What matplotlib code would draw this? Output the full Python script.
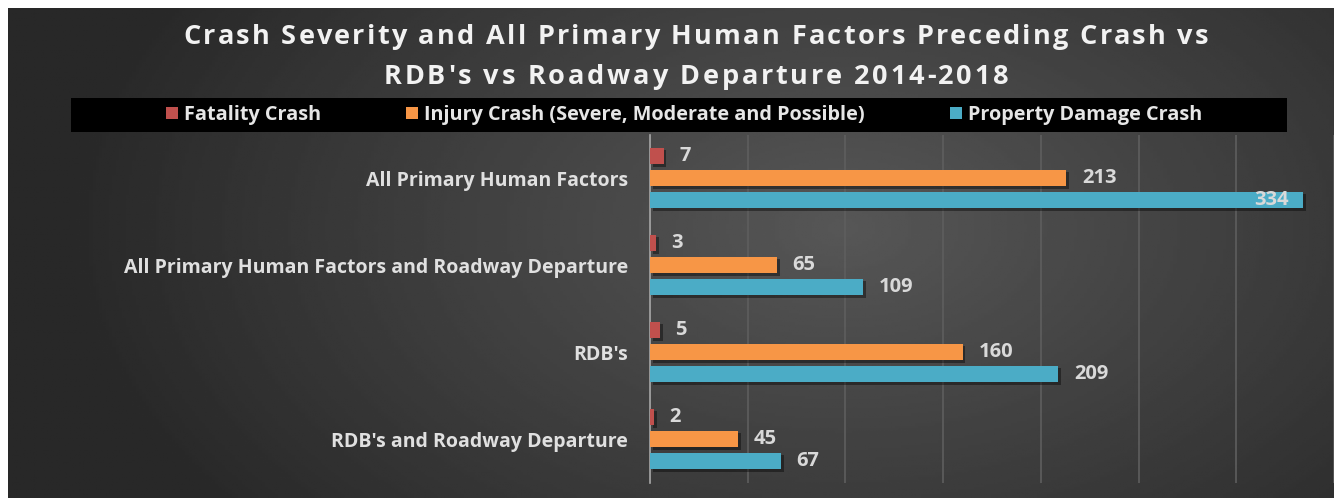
import numpy as np
import matplotlib.pyplot as plt
from matplotlib.patches import Rectangle, Patch
from matplotlib.font_manager import FontProperties
import matplotlib.patheffects as pe

categories = ["All Primary Human Factors",
              "All Primary Human Factors and Roadway Departure",
              "RDB's",
              "RDB's and Roadway Departure"]
series_names = ["Fatality Crash",
                "Injury Crash (Severe, Moderate and Possible)",
                "Property Damage Crash"]
fatality = [7, 3, 5, 2]
injury = [213, 65, 160, 45]
property_damage = [334, 109, 209, 67]
colors = ["#c0504d", "#f79646", "#4bacc6"]
title_lines = ["Crash Severity and All Primary Human Factors Preceding Crash vs",
               "RDB's vs Roadway Departure 2014-2018"]

W, H = 1337, 498
plt.rcParams['font.family'] = ['Open Sans', 'DejaVu Sans']
fig = plt.figure(figsize=(W / 100, H / 100), dpi=100, facecolor='white')

# dark panel with radial gradient
bg = fig.add_axes([8 / W, 0, (1333 - 8) / W, (H - 8) / H])
gx, gy = np.meshgrid(np.linspace(0, 1, 400), np.linspace(0, 1, 200))
r = np.sqrt(((gx - 0.63) / 0.55) ** 2 + ((gy - 0.45) / 0.9) ** 2)
shade = np.clip(0.34 - 0.17 * r, 0.16, 0.34)
bg.imshow(shade, cmap='gray', vmin=0, vmax=1, aspect='auto', extent=[0, 1, 0, 1], origin='upper')
bg.set_axis_off()


def spaced_text(s, xc, y_base, target_w, prop):
    # draw a line with extra letter spacing, centred on xc (pixels)
    rend = fig.canvas.get_renderer()
    pos = [rend.get_text_width_height_descent(s[:k], prop, ismath=False)[0] for k in range(len(s) + 1)]
    extra = (target_w - pos[-1]) / (len(s) - 1)
    x0 = xc - target_w / 2
    for k, ch in enumerate(s):
        fig.text((x0 + pos[k] + k * extra) / W, 1 - y_base / H, ch, ha='left', va='baseline',
                 color='#f2f2f2', fontproperties=prop)


tprop = FontProperties(family=['Open Sans', 'DejaVu Sans'], weight='bold', size=19.5)
spaced_text(title_lines[0], 696, 43.5, 1025, tprop)
spaced_text(title_lines[1], 696, 83.5, 625, tprop)

# legend bar
fig.patches.append(Rectangle((71 / W, 1 - 132 / H), (1287 - 71) / W, 34 / H,
                             transform=fig.transFigure, facecolor='black', edgecolor='none', zorder=1))
handles = [Patch(facecolor=c, edgecolor='none') for c in colors]
leg = fig.legend(handles, series_names, loc='center', bbox_to_anchor=(684 / W, 1 - 115 / H),
                 ncol=3, frameon=False, handlelength=0.6, handleheight=0.6, handletextpad=0.3,
                 columnspacing=4.3, prop={'weight': 'bold', 'size': 14.3})
for t in leg.get_texts():
    t.set_color('#e6e6e6')

# plot area
ax = fig.add_axes([650 / W, 1 - 482.5 / H, (1334 - 650) / W, (482.5 - 134.5) / H])
ax.patch.set_alpha(0)
y = np.arange(len(categories))
pitch = 0.253
bh = 0.195
shadow = [pe.SimplePatchShadow(offset=(2, -2), shadow_rgbFace='black', alpha=0.4), pe.Normal()]
for i, (vals, c) in enumerate(zip([fatality, injury, property_damage], colors)):
    bars = ax.barh(y + (i - 1) * pitch, vals, height=bh, color=c, zorder=3)
    for b, v in zip(bars, vals):
        b.set_path_effects(shadow)
        yc = b.get_y() + b.get_height() / 2
        if v > 320:
            ax.text(v - 7, yc, str(v), ha='right', va='center', color='#d9d9d9',
                    fontsize=14.5, fontweight='bold', zorder=4)
        else:
            ax.text(v + 8, yc, str(v), ha='left', va='center', color='#d9d9d9',
                    fontsize=14.5, fontweight='bold', zorder=4)

ax.set_xlim(0, 350)
ax.set_ylim(3.5, -0.5)
ax.set_xticks(np.arange(0, 351, 50))
ax.xaxis.grid(True, color='#5e5e5e', linewidth=1.2, zorder=0)
ax.set_axisbelow(True)
ax.tick_params(axis='x', length=0, labelbottom=False)
ax.tick_params(axis='y', length=0, pad=16)
ax.set_yticks(y)
ax.set_yticklabels(categories, color='#e0e0e0', fontsize=14, fontweight='bold')
for s in ['top', 'right', 'bottom']:
    ax.spines[s].set_visible(False)
ax.spines['left'].set_color('#a6a6a6')
ax.spines['left'].set_linewidth(1.2)

fig.savefig('out.png', dpi=100, facecolor='white')
